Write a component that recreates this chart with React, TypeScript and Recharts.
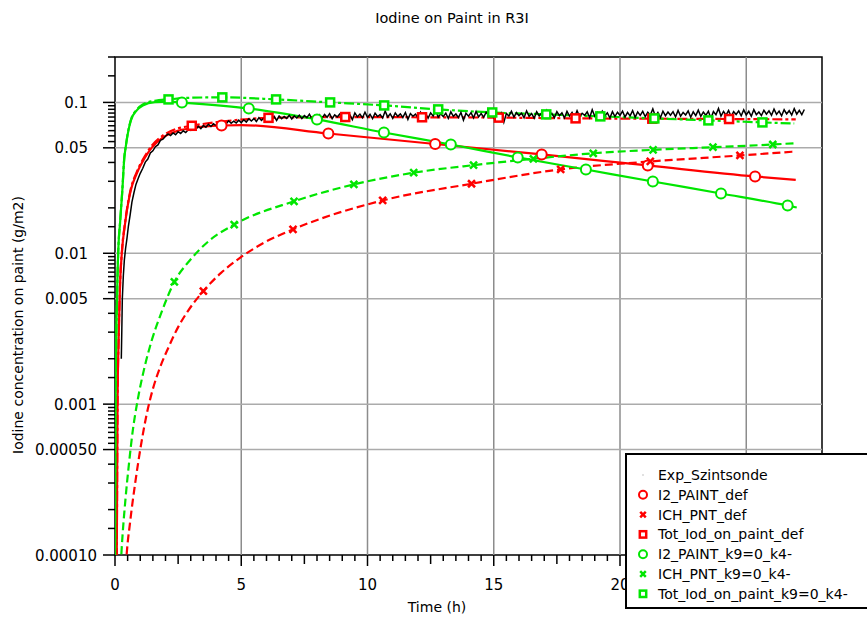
import React from 'react';
import { ComposedChart, Line, XAxis, YAxis, ReferenceLine, ReferenceArea } from 'recharts';

const FONT = '"DejaVu Sans", Verdana, sans-serif';
const RED = '#ff0000';
const GREEN = '#00e600';

type Pt = [number, number, number?];

// measured probe signal: rise phase (t, value), then regular samples
const expRise: Pt[] = [
  [0.25, 0.002], [0.27, 0.0031], [0.29, 0.005], [0.33, 0.0071], [0.37, 0.009],
  [0.42, 0.0108], [0.47, 0.0124], [0.53, 0.0151], [0.6, 0.018], [0.67, 0.0218],
  [0.75, 0.0252], [0.83, 0.0286], [0.91, 0.0311], [1.0, 0.0339], [1.1, 0.0366],
  [1.2, 0.0402], [1.3, 0.0421], [1.4, 0.0462], [1.5, 0.0478], [1.6, 0.0509],
  [1.7, 0.0523], [1.8, 0.0561], [1.9, 0.057],
];
const EXP_START = 2.0;
const EXP_STEP = 0.1;
const expValues = [
  0.0596, 0.0618, 0.0603, 0.0627, 0.0611, 0.0639, 0.0622, 0.0648, 0.0631, 0.0659,
  0.0652, 0.0684, 0.0663, 0.0695, 0.0671, 0.0703, 0.0684, 0.0716, 0.0692, 0.0721,
  0.0703, 0.0735, 0.0714, 0.0742, 0.0719, 0.0755, 0.0727, 0.0751, 0.0731, 0.0763,
  0.0734, 0.0768, 0.0741, 0.0779, 0.0752, 0.0781, 0.0748, 0.0793, 0.076, 0.0789,
  0.0763, 0.0801, 0.0772, 0.0808, 0.0759, 0.0812, 0.0779, 0.0806, 0.0783, 0.0821,
  0.0776, 0.0815, 0.0788, 0.0824, 0.0781, 0.0817, 0.0792, 0.0836, 0.0774, 0.0819,
  0.079, 0.0828, 0.0785, 0.0833, 0.0797, 0.0841, 0.0779, 0.0826, 0.0801, 0.0838,
  0.0787, 0.0843, 0.0799, 0.0829, 0.0768, 0.0852, 0.0803, 0.0837, 0.0792, 0.0861,
  0.0796, 0.0835, 0.0781, 0.0848, 0.0806, 0.0832, 0.0789, 0.0876, 0.0801, 0.084,
  0.0784, 0.0851, 0.0808, 0.0839, 0.0795, 0.0857, 0.0772, 0.0844, 0.081, 0.0836,
  0.0791, 0.0862, 0.0803, 0.0845, 0.0787, 0.0853, 0.0812, 0.0889, 0.0798, 0.0841,
  0.0805, 0.0849, 0.0783, 0.0866, 0.0809, 0.0838, 0.0794, 0.0858, 0.0762, 0.0847,
  0.0811, 0.0856, 0.079, 0.0871, 0.0802, 0.0843, 0.0797, 0.0862, 0.0815, 0.0839,
  0.0793, 0.0868, 0.0806, 0.0851, 0.074, 0.0846, 0.0812, 0.0873, 0.0799, 0.0855,
  0.0817, 0.0849, 0.0792, 0.0878, 0.0808, 0.0845, 0.0786, 0.0867, 0.0813, 0.0852,
  0.0798, 0.0883, 0.0809, 0.0847, 0.0791, 0.0869, 0.0816, 0.0854, 0.0789, 0.0872,
  0.0812, 0.0859, 0.0796, 0.0881, 0.0807, 0.0848, 0.0821, 0.0866, 0.0794, 0.0895,
  0.081, 0.0857, 0.0799, 0.0874, 0.0818, 0.0852, 0.0788, 0.0869, 0.0806, 0.0861,
  0.0821, 0.0876, 0.0801, 0.0858, 0.0814, 0.0883, 0.0797, 0.0865, 0.0819, 0.0872,
  0.0804, 0.0861, 0.0825, 0.0906, 0.0809, 0.0857, 0.0792, 0.0874, 0.0816, 0.0863,
  0.0823, 0.0869, 0.0803, 0.0884, 0.0811, 0.0858, 0.0826, 0.0879, 0.0798, 0.0866,
  0.0817, 0.0888, 0.0809, 0.0862, 0.0821, 0.0875, 0.0784, 0.0869, 0.0828, 0.0911,
  0.0812, 0.0871, 0.0824, 0.0883, 0.0806, 0.0868, 0.0831, 0.0878, 0.0815, 0.0892,
  0.0826, 0.0873, 0.081, 0.0896, 0.0829, 0.0864, 0.0818, 0.0887, 0.0835, 0.0879,
  0.0821, 0.0902, 0.0833, 0.0876, 0.0815, 0.0894, 0.0838, 0.0881, 0.0824, 0.0908,
  0.0836, 0.0885, 0.0829, 0.0898,
];

// model curves: [time h, value g/m2, 1 = marker drawn]
const i2Def: Pt[] = [
  [0.04, 0.00003], [0.07, 0.0001], [0.1, 0.001], [0.15, 0.003], [0.2, 0.0062],
  [0.28, 0.0105], [0.4, 0.0158], [0.62, 0.026], [0.86, 0.0338], [1.19, 0.0432],
  [1.45, 0.05], [1.9, 0.0586], [2.44, 0.0645], [3.0, 0.0675], [3.6, 0.0693],
  [4.22, 0.0703, 1], [5.0, 0.0708], [8.45, 0.0622, 1], [12.68, 0.053, 1],
  [16.9, 0.0452, 1], [21.1, 0.0382, 1], [25.35, 0.0323, 1], [26.96, 0.0307],
];
const ichDef: Pt[] = [
  [0.4, 0.00007], [0.46, 0.0001], [0.6, 0.000166], [0.8, 0.0003], [1.0, 0.0005],
  [1.25, 0.00085], [1.5, 0.00126], [1.8, 0.00178], [2.1, 0.00234], [2.5, 0.00324],
  [2.9, 0.00417], [3.5, 0.00562, 1], [4.2, 0.00741], [4.95, 0.00933], [5.9, 0.01175],
  [7.05, 0.0144, 1], [10.6, 0.0224, 1], [14.12, 0.0289, 1], [17.65, 0.036, 1],
  [21.2, 0.0406, 1], [24.75, 0.0445, 1], [26.96, 0.0473],
];
const totDef: Pt[] = [
  [0.04, 0.00003], [0.07, 0.0001], [0.1, 0.001], [0.15, 0.003], [0.2, 0.0062],
  [0.28, 0.0106], [0.4, 0.016], [0.62, 0.0265], [0.86, 0.0345], [1.19, 0.0443],
  [1.45, 0.0515], [1.9, 0.0604], [2.44, 0.0668], [3.04, 0.07, 1], [4.5, 0.0755],
  [6.08, 0.079, 1], [9.12, 0.08, 1], [12.16, 0.0797, 1], [15.2, 0.0793, 1],
  [18.24, 0.0784, 1], [21.28, 0.078, 1], [24.32, 0.0776, 1], [26.96, 0.0772],
];
const i2K9: Pt[] = [
  [0.0, 0.00009], [0.02, 0.001], [0.08, 0.005], [0.13, 0.0105], [0.2, 0.0158],
  [0.29, 0.026], [0.37, 0.0432], [0.42, 0.05], [0.53, 0.065], [0.63, 0.076],
  [0.86, 0.0885], [1.1, 0.0955], [1.58, 0.1005], [2.1, 0.1012], [2.65, 0.0998, 1],
  [5.3, 0.0912, 1], [8.0, 0.0771, 1], [10.65, 0.0632, 1], [13.3, 0.0526, 1],
  [15.95, 0.0432, 1], [18.65, 0.0359, 1], [21.3, 0.0299, 1], [24.0, 0.0249, 1],
  [26.64, 0.0207, 1], [27.0, 0.0201],
];
const ichK9: Pt[] = [
  [0.2, 0.00007], [0.26, 0.000107], [0.42, 0.00024], [0.55, 0.000398], [0.7, 0.00066],
  [0.9, 0.00107], [1.15, 0.0017], [1.45, 0.00263], [1.8, 0.00389], [2.35, 0.00646, 1],
  [3.0, 0.00912], [3.7, 0.012], [4.72, 0.0155, 1], [7.09, 0.0221, 1], [9.46, 0.0286, 1],
  [11.83, 0.0342, 1], [14.2, 0.0384, 1], [16.57, 0.0423, 1], [18.94, 0.046, 1],
  [21.31, 0.0485, 1], [23.68, 0.0505, 1], [26.05, 0.0526, 1], [26.96, 0.0537],
];
const totK9: Pt[] = [
  [0.0, 0.00009], [0.02, 0.001], [0.08, 0.005], [0.13, 0.0105], [0.2, 0.016],
  [0.29, 0.0262], [0.37, 0.0435], [0.42, 0.0503], [0.53, 0.0655], [0.63, 0.0767],
  [0.86, 0.0895], [1.1, 0.097], [1.58, 0.1025], [2.12, 0.1047, 1], [3.1, 0.1075],
  [4.25, 0.108, 1], [6.38, 0.1047, 1], [8.52, 0.1, 1], [10.66, 0.0955, 1],
  [12.8, 0.0899, 1], [14.94, 0.0858, 1], [17.08, 0.0833, 1], [19.22, 0.0808, 1],
  [21.36, 0.0783, 1], [23.5, 0.076, 1], [25.64, 0.0737, 1], [26.9, 0.0725],
];

const legendNames = [
  'Exp_Szintsonde', 'I2_PAINT_def', 'ICH_PNT_def', 'Tot_Iod_on_paint_def',
  'I2_PAINT_k9=0_k4-', 'ICH_PNT_k9=0_k4-', 'Tot_Iod_on_paint_k9=0_k4-',
];

const yMajorValues = [0.0001, 0.0005, 0.001, 0.005, 0.01, 0.05, 0.1];
const yMajorLabels = ['0.00010', '0.00050', '0.001', '0.005', '0.01', '0.05', '0.1'];
const decades = [0.0001, 0.001, 0.01, 0.1];
const tickMultipliers = [1, 1.5, 2, 3, 4, 5, 5.5, 6, 6.5, 7, 7.5, 8, 8.5, 9, 9.5];
const yTicks = decades
  .flatMap((d) => tickMultipliers.map((m) => +(d * m).toPrecision(6)))
  .filter((v) => v <= 0.2);

// "25" sits under the legend box in the original, so it is not labelled
const xGridValues = [5, 10, 15, 20, 25];
const xLabelValues = [0, 5, 10, 15, 20];
const xLabels = ['0', '5', '10', '15', '20'];
const xTicks = Array.from({ length: 57 }, (_, i) => i * 0.5);

const rows = (pts: Pt[]) => pts.map(([t, v, m]) => ({ t, v, m: m === 1 }));

const expData = [
  ...expRise.map(([t, v]) => ({ t, v })),
  ...expValues.map((v, i) => ({ t: +(EXP_START + i * EXP_STEP).toFixed(2), v })),
];

const models = [
  { key: 'i2Def', pts: i2Def, color: RED, dash: undefined, marker: 'circle' },
  { key: 'ichDef', pts: ichDef, color: RED, dash: '8 4', marker: 'cross' },
  { key: 'totDef', pts: totDef, color: RED, dash: '10 3 3 3', marker: 'square' },
  { key: 'i2K9', pts: i2K9, color: GREEN, dash: undefined, marker: 'circle' },
  { key: 'ichK9', pts: ichK9, color: GREEN, dash: '8 4', marker: 'cross' },
  { key: 'totK9', pts: totK9, color: GREEN, dash: '10 3 3 3', marker: 'square' },
];

function Marker({ kind, cx, cy, color, size = 1 }: any) {
  if (kind === 'circle')
    return <circle cx={cx} cy={cy} r={5 * size} fill="#fff" stroke={color} strokeWidth={2} />;
  if (kind === 'square')
    return (
      <rect x={cx - 4 * size} y={cy - 4 * size} width={8 * size} height={8 * size}
        fill="#fff" stroke={color} strokeWidth={2.5} />
    );
  if (kind === 'cross') {
    const s = 3.5 * size;
    return (
      <path d={`M${cx - s},${cy - s}L${cx + s},${cy + s}M${cx + s},${cy - s}L${cx - s},${cy + s}`}
        stroke={color} strokeWidth={2.5} fill="none" />
    );
  }
  return <circle cx={cx} cy={cy} r={0.8} fill="#bbb" />;
}

function YTick(props: any) {
  const { x, y, payload } = props;
  const v = payload.value;
  const i = yMajorValues.findIndex((m) => Math.abs(m - v) / m < 1e-6);
  const major = i >= 0;
  return (
    <g>
      <line x1={x - (major ? 12 : 7)} x2={x} y1={y} y2={y} stroke="#000" strokeWidth={1.5} />
      {major && (
        <text x={v >= 0.005 ? x - 27 : x - 18} y={y + 5.5} textAnchor="end"
          fontFamily={FONT} fontSize={15} fill="#000">
          {yMajorLabels[i]}
        </text>
      )}
    </g>
  );
}

function XTick(props: any) {
  const { x, y, payload } = props;
  const v = payload.value;
  const len = v % 5 === 0 ? 11 : v % 2.5 === 0 ? 9 : 6;
  const i = xLabelValues.indexOf(v);
  return (
    <g>
      <line x1={x} x2={x} y1={y} y2={y + len} stroke="#000" strokeWidth={1.5} />
      {i >= 0 && (
        <text x={x} y={y + 34.5} textAnchor="middle" fontFamily={FONT} fontSize={15} fill="#000">
          {xLabels[i]}
        </text>
      )}
    </g>
  );
}

const legendKinds = ['dot', 'circle', 'cross', 'square', 'circle', 'cross', 'square'];
const legendColors = ['#000', RED, RED, RED, GREEN, GREEN, GREEN];

export default function App() {
  return (
    <div style={{ position: 'absolute', left: 0, top: 0, width: 867, height: 621, overflow: 'hidden', background: '#fff' }}>
      <ComposedChart width={867} height={621} margin={{ top: 57, right: 45, bottom: 0, left: 0 }}>
        <XAxis type="number" dataKey="t" domain={[0, 28]} allowDataOverflow ticks={xTicks}
          interval={0} tick={<XTick />} tickLine={false} axisLine={false} tickSize={0} tickMargin={0} height={66} />
        <YAxis type="number" scale="log" domain={[0.0001, 0.2]} allowDataOverflow ticks={yTicks}
          interval={0} tick={<YTick />} tickLine={false} axisLine={false} tickSize={0} tickMargin={0} width={115} />
        {xGridValues.map((v) => (
          <ReferenceLine key={'gx' + v} x={v} stroke="#8c8c8c" strokeWidth={1.5} />
        ))}
        {yMajorValues.slice(1).map((v) => (
          <ReferenceLine key={'gy' + v} y={v} stroke="#ababab" strokeWidth={1.5} />
        ))}
        {models.map((s) => (
          <Line key={s.key} data={rows(s.pts)} dataKey="v" type="monotone" stroke={s.color}
            strokeWidth={2.2} strokeDasharray={s.dash} dot={false} activeDot={false}
            isAnimationActive={false} />
        ))}
        <Line data={expData} dataKey="v" type="linear" stroke="#000" strokeWidth={1.5}
          dot={false} activeDot={false} isAnimationActive={false} />
        {models.map((s) => (
          <Line key={s.key + 'm'} data={rows(s.pts).filter((r) => r.m)} dataKey="v" stroke="none"
            activeDot={false} isAnimationActive={false}
            dot={(p: any) => (
              <g key={s.key + p.index}>
                <Marker kind={s.marker} cx={p.cx} cy={p.cy} color={s.color} />
              </g>
            )} />
        ))}
        <ReferenceArea x1={0} x2={28} y1={0.0001} y2={0.2} fill="none" stroke="#000"
          strokeWidth={1.5} fillOpacity={0} />
      </ComposedChart>
      <svg width={867} height={621} style={{ position: 'absolute', left: 0, top: 0, pointerEvents: 'none' }}>
        <text x={452} y={23} textAnchor="middle" fontFamily={FONT} fontSize={14.5} fill="#000">
          Iodine on Paint in R3I
        </text>
        <text x={437} y={612} textAnchor="middle" fontFamily={FONT} fontSize={14} fill="#000">
          Time (h)
        </text>
        <text transform="rotate(-90)" x={-325} y={23} textAnchor="middle" fontFamily={FONT}
          fontSize={14} fill="#000">
          Iodine concentration on paint (g/m2)
        </text>
        <rect x={626} y={454} width={260} height={154} fill="#fff" stroke="#000" strokeWidth={2} />
        {legendNames.map((name, i) => {
          const cy = 475 + i * 19.8;
          return (
            <g key={name}>
              <Marker kind={legendKinds[i]} cx={643} cy={cy} color={legendColors[i]} size={0.8} />
              <text x={658} y={cy + 5} fontFamily={FONT} fontSize={14} fill="#000">
                {name}
              </text>
            </g>
          );
        })}
      </svg>
    </div>
  );
}
